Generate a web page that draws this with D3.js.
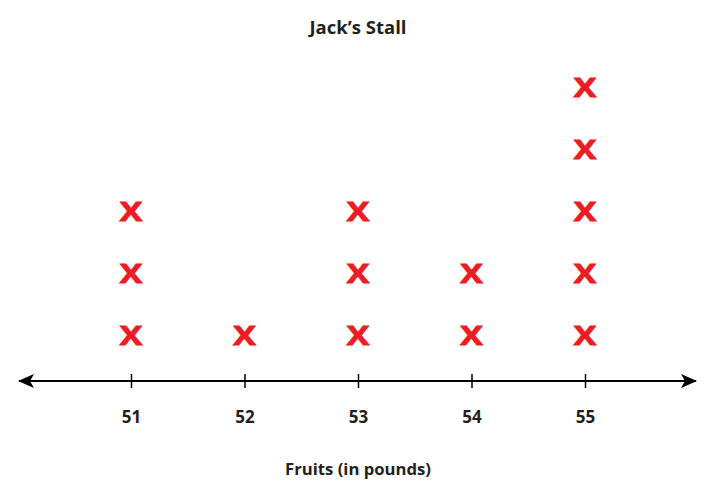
<!DOCTYPE html>
<html>
<head>
<meta charset="utf-8">
<script src="https://cdn.jsdelivr.net/npm/d3@7"></script>
<style>
  body { margin: 0; background: #fff; }
  text { font-family: "Open Sans", sans-serif; font-weight: bold; }
</style>
</head>
<body>
<script>
// values (pounds) and how many X marks sit above each
const pounds = [51, 52, 53, 54, 55];
const counts = [3, 1, 3, 2, 5];
const tickLabels = ["51", "52", "53", "54", "55"];

const width = 714, height = 498;
const axisY = 381;

const svg = d3.select("body").append("svg")
  .attr("width", width)
  .attr("height", height);

const x = d3.scaleLinear().domain([51, 55]).range([131, 585]);
const y = d3.scaleLinear().domain([1, 5]).range([335.5, 87.5]);

svg.append("text")
  .attr("x", 358).attr("y", 34)
  .attr("text-anchor", "middle")
  .attr("font-size", 18.5)
  .attr("fill", "#231f20")
  .text("Jack\u2019s Stall");

// arrow heads
const defs = svg.append("defs");
defs.append("marker")
  .attr("id", "arr")
  .attr("viewBox", "0 0 16 14")
  .attr("refX", 15).attr("refY", 7)
  .attr("markerWidth", 16).attr("markerHeight", 14)
  .attr("markerUnits", "userSpaceOnUse")
  .attr("orient", "auto-start-reverse")
  .append("path")
  .attr("d", "M0,0 L16,7 L0,14 L4,7 Z")
  .attr("fill", "#000");

svg.append("line")
  .attr("x1", 19).attr("x2", 696)
  .attr("y1", axisY).attr("y2", axisY)
  .attr("stroke", "#000").attr("stroke-width", 2)
  .attr("marker-start", "url(#arr)")
  .attr("marker-end", "url(#arr)");

const axis = d3.axisBottom(x)
  .tickValues(pounds)
  .tickFormat((d, i) => tickLabels[i])
  .tickSize(7)
  .tickPadding(23);

const g = svg.append("g")
  .attr("transform", `translate(0,${axisY})`)
  .call(axis);
g.select(".domain").remove();
g.selectAll(".tick line")
  .attr("y1", -7).attr("y2", 7)
  .attr("stroke", "#000").attr("stroke-width", 1.5);
g.selectAll(".tick text")
  .attr("font-size", 17)
  .attr("font-family", "Open Sans, sans-serif")
  .attr("font-weight", "bold")
  .attr("fill", "#231f20");

// one record per X mark
const marks = [];
pounds.forEach((p, i) => {
  for (let k = 1; k <= counts[i]; k++) marks.push({ p: p, k: k });
});

svg.selectAll("text.mark")
  .data(marks)
  .enter()
  .append("text")
  .attr("class", "mark")
  .attr("transform", d => `translate(${x(d.p)},${y(d.k)}) scale(1.25,1)`)
  .attr("dy", "0.36em")
  .attr("text-anchor", "middle")
  .attr("font-size", 27)
  .attr("fill", "#ed1c24")
  .attr("stroke", "#ed1c24")
  .attr("stroke-width", 0.9)
  .text("X");

svg.append("text")
  .attr("x", 358).attr("y", 475)
  .attr("text-anchor", "middle")
  .attr("font-size", 16.7)
  .attr("fill", "#231f20")
  .text("Fruits (in pounds)");
</script>
</body>
</html>
